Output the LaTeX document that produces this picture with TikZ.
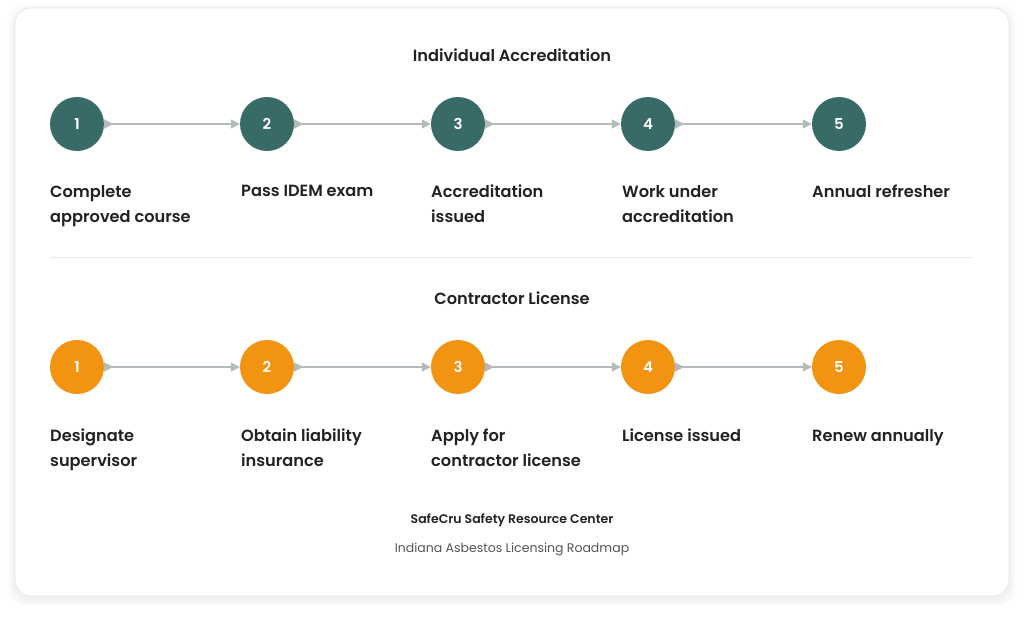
\documentclass[tikz,border=0pt]{standalone}
\usepackage{fontspec}
\setmainfont{Poppins}[BoldFont={Poppins SemiBold}]
\usetikzlibrary{arrows.meta}
\definecolor{teal}{HTML}{386B68}
\definecolor{orng}{HTML}{F29312}
\definecolor{lgray}{HTML}{B3BBBB}
\definecolor{txt}{HTML}{222222}
\definecolor{subtxt}{HTML}{555555}
\definecolor{cardline}{HTML}{E8E8E8}
\tikzset{
  x=1pt, y=-1pt,
  stepcirc/.style={circle, minimum size=54pt, inner sep=0pt, text=white, font=\bfseries\fontsize{15}{15}\selectfont},
  tealc/.style={stepcirc, fill=teal},
  orngc/.style={stepcirc, fill=orng},
  conn/.style={draw=lgray, line width=1.2pt, {Triangle[reversed,length=9pt,width=9pt]}-{Triangle[length=9pt,width=9pt]}},
  lbl/.style={anchor=north west, align=left, inner sep=0pt, text=txt, font=\bfseries\fontsize{16.2}{25}\selectfont},
  ttl/.style={text=txt, font=\bfseries\fontsize{16.2}{18}\selectfont},
}
\begin{document}
\begin{tikzpicture}
\useasboundingbox (0,0) rectangle (1024,618);
\fill[white] (0,0) rectangle (1024,618);
% soft shadow
\foreach \i/\o in {8/0.008,6/0.01,4/0.014,2/0.018}{
  \fill[black, opacity=\o, rounded corners=18pt] (15-\i,8-\i+3) rectangle (1009+\i,596+\i+3);
}
\filldraw[fill=white, draw=cardline, line width=0.8pt, rounded corners=16pt] (15,8) rectangle (1009,596);

\node[ttl] (t1) at (512,55) {Individual Accreditation};
\node[ttl] (t2) at (512,298) {Contractor License};
\coordinate (dl) at (50,257);
\coordinate (dr) at (973,257);
\draw[draw=cardline, line width=0.8pt] (dl) -- (dr);

\foreach \n/\x in {1/77,2/267,3/458,4/648,5/839}{
  \node[tealc] (a\n) at (\x,124) {\n};
  \node[orngc] (b\n) at (\x,367) {\n};
}
\foreach \i/\j in {1/2,2/3,3/4,4/5}{
  \draw[conn] (a\i.east) -- (a\j.west);
  \draw[conn] (b\i.east) -- (b\j.west);
}

\node[lbl] (la1) at (50,185) {Complete\\approved course};
\node[lbl] (la2) at (241,185) {Pass IDEM exam};
\node[lbl] (la3) at (431,185) {Accreditation\\issued};
\node[lbl] (la4) at (622,185) {Work under\\accreditation};
\node[lbl] (la5) at (812,185) {Annual refresher};

\node[lbl] (lb1) at (50,429) {Designate\\supervisor};
\node[lbl] (lb2) at (241,429) {Obtain liability\\insurance};
\node[lbl] (lb3) at (431,429) {Apply for\\contractor license};
\node[lbl] (lb4) at (622,429) {License issued};
\node[lbl] (lb5) at (812,429) {Renew annually};

\node[text=txt, font=\bfseries\fontsize{12.5}{13}\selectfont] (f1) at (512,520) {SafeCru Safety Resource Center};
\node[text=subtxt, font=\fontsize{12.5}{13}\selectfont] (f2) at (512,549) {Indiana Asbestos Licensing Roadmap};
\end{tikzpicture}
\end{document}
